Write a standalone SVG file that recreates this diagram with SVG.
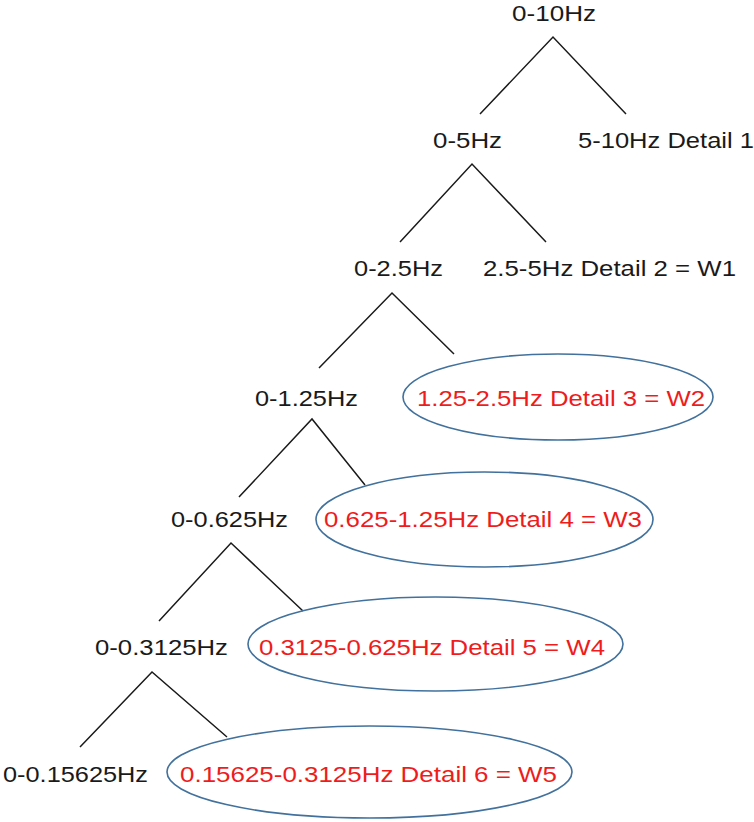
<svg xmlns="http://www.w3.org/2000/svg" width="754" height="822" viewBox="0 0 754 822">
<style>
.t{font-family:"Liberation Sans",Arial,sans-serif;font-size:22px;fill:#1a1a1a}
.r{fill:#ee1c1c}
.e{fill:none;stroke:#41719c;stroke-width:1.6}
.c{stroke:#1a1a1a;stroke-width:1.5;fill:none}
</style>
<rect width="754" height="822" fill="#fff"/>
<g id="connectors">
<path class="c" d="M480,114L553,37L626,114"/>
<path class="c" d="M400,242L472,164L546,242"/>
<path class="c" d="M319,368L392,293L454,354"/>
<path class="c" d="M239,497L312,419L365,485"/>
<path class="c" d="M159,621L231,543L303,611"/>
<path class="c" d="M80,747L152,672L227,737"/>
</g>
<g id="n0"><text class="t" x="512" y="21" textLength="84" lengthAdjust="spacingAndGlyphs">0-10Hz</text></g>
<g id="n1"><text class="t" x="433" y="148" textLength="69" lengthAdjust="spacingAndGlyphs">0-5Hz</text></g>
<g id="d1"><text class="t" x="578" y="148" textLength="176" lengthAdjust="spacingAndGlyphs">5-10Hz Detail 1</text></g>
<g id="n2"><text class="t" x="354" y="276" textLength="89" lengthAdjust="spacingAndGlyphs">0-2.5Hz</text></g>
<g id="d2"><text class="t" x="483" y="276" textLength="253" lengthAdjust="spacingAndGlyphs">2.5-5Hz Detail 2 = W1</text></g>
<g id="n3"><text class="t" x="255" y="406" textLength="103" lengthAdjust="spacingAndGlyphs">0-1.25Hz</text></g>
<g id="d3"><ellipse class="e" cx="558" cy="397" rx="155" ry="43"/><text class="t r" x="417" y="406" textLength="288" lengthAdjust="spacingAndGlyphs">1.25-2.5Hz Detail 3 = W2</text></g>
<g id="n4"><text class="t" x="171" y="527" textLength="117" lengthAdjust="spacingAndGlyphs">0-0.625Hz</text></g>
<g id="d4"><ellipse class="e" cx="484.5" cy="519.5" rx="168.5" ry="47.5"/><text class="t r" x="324" y="527" textLength="318" lengthAdjust="spacingAndGlyphs">0.625-1.25Hz Detail 4 = W3</text></g>
<g id="n5"><text class="t" x="95" y="655" textLength="133" lengthAdjust="spacingAndGlyphs">0-0.3125Hz</text></g>
<g id="d5"><ellipse class="e" cx="435.5" cy="644" rx="187.5" ry="47"/><text class="t r" x="259" y="655" textLength="346" lengthAdjust="spacingAndGlyphs">0.3125-0.625Hz Detail 5 = W4</text></g>
<g id="n6"><text class="t" x="3" y="782" textLength="145" lengthAdjust="spacingAndGlyphs">0-0.15625Hz</text></g>
<g id="d6"><ellipse class="e" cx="369.5" cy="772" rx="202.5" ry="46"/><text class="t r" x="180" y="782" textLength="377" lengthAdjust="spacingAndGlyphs">0.15625-0.3125Hz Detail 6 = W5</text></g>
</svg>
